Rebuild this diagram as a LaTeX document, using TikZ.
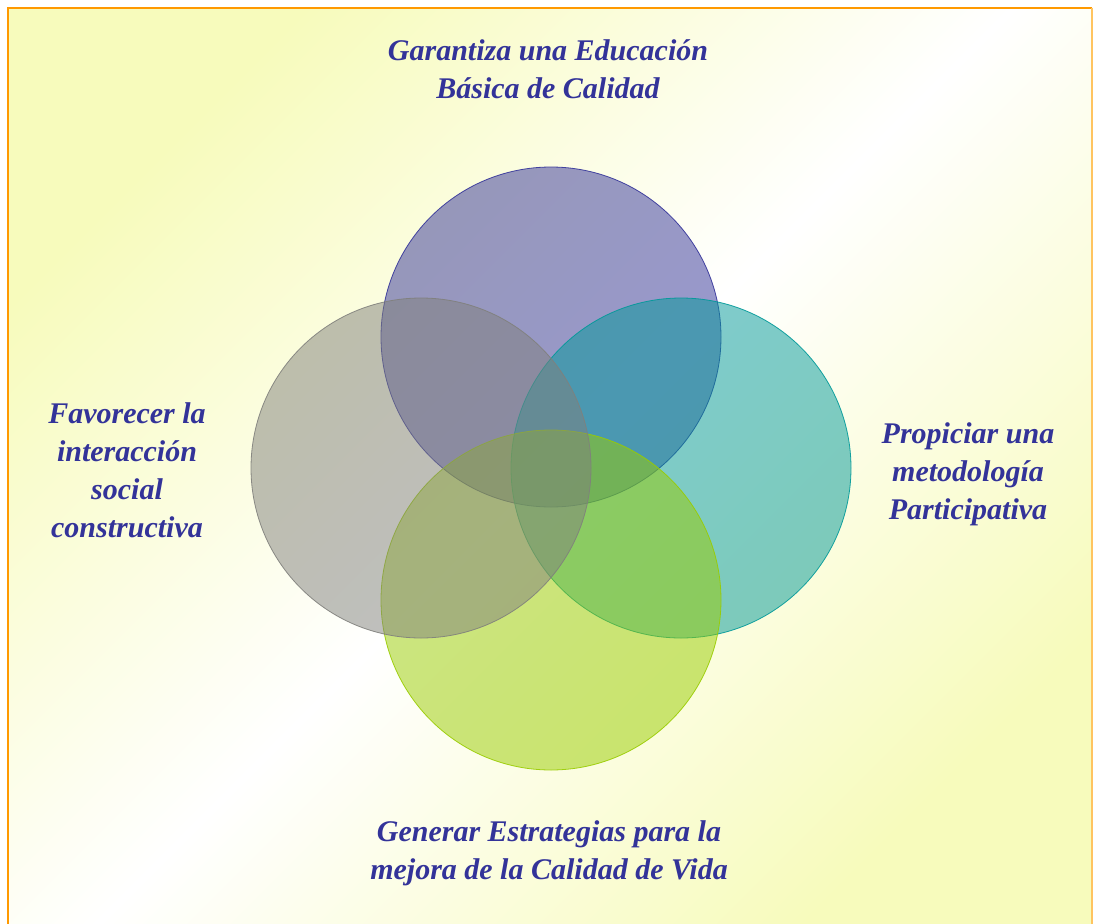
\documentclass[tikz,border=0pt]{standalone}
\usepackage{fontspec}
\setmainfont{Liberation Serif}
\usepackage{tikz}
\usetikzlibrary{positioning}
\definecolor{navy}{RGB}{51,51,153}
\definecolor{tealc}{RGB}{0,153,153}
\definecolor{limec}{RGB}{153,204,0}
\definecolor{greyc}{RGB}{128,128,124}
\definecolor{paleyel}{RGB}{247,251,188}
\definecolor{frame}{RGB}{255,153,0}
\definecolor{framelt}{RGB}{255,196,96}
\tikzset{
	venn/.style={circle, draw=#1, fill=#1, fill opacity=.5, draw opacity=.9,
		line width=.8pt, minimum size=340pt, inner sep=0pt},
	aim/.style={text=navy, align=center, font=\fontsize{30}{38}\selectfont\bfseries\itshape}
}
\begin{document}
\begin{tikzpicture}[x=1pt, y=-1pt]
		\useasboundingbox (0,0) rectangle (1093,924);
		\shade[top color=paleyel, bottom color=paleyel, middle color=white, shading angle=45]
			(7.5,7.5) rectangle (1092,935);
		\draw[frame, line width=2pt] (7.5,935) -- (7.5,7.5) -- (1092,7.5);
		\draw[framelt, line width=2pt] (1092,7.5) -- (1092,935);
		% the four circles
		\node[venn=navy] (edu) at (551,337) {};
		\node[venn=tealc] (met) at (681,468) {};
		\node[venn=limec] (vida) at (551,600) {};
		\node[venn=greyc] (soc) at (421,468) {};
		% the four aims
		\node[aim] (eduT) at (548,69) {Garantiza una Educación\\Básica de Calidad};
		\node[aim] (socT) at (127,470) {Favorecer la\\interacción\\social\\constructiva};
		\node[aim] (metT) at (968,474) {Propiciar una\\metodología\\Participativa};
		\node[aim] (vidaT) at (549,853) {Generar Estrategias para la\\mejora de la Calidad de Vida};
	\end{tikzpicture}
\end{document}
